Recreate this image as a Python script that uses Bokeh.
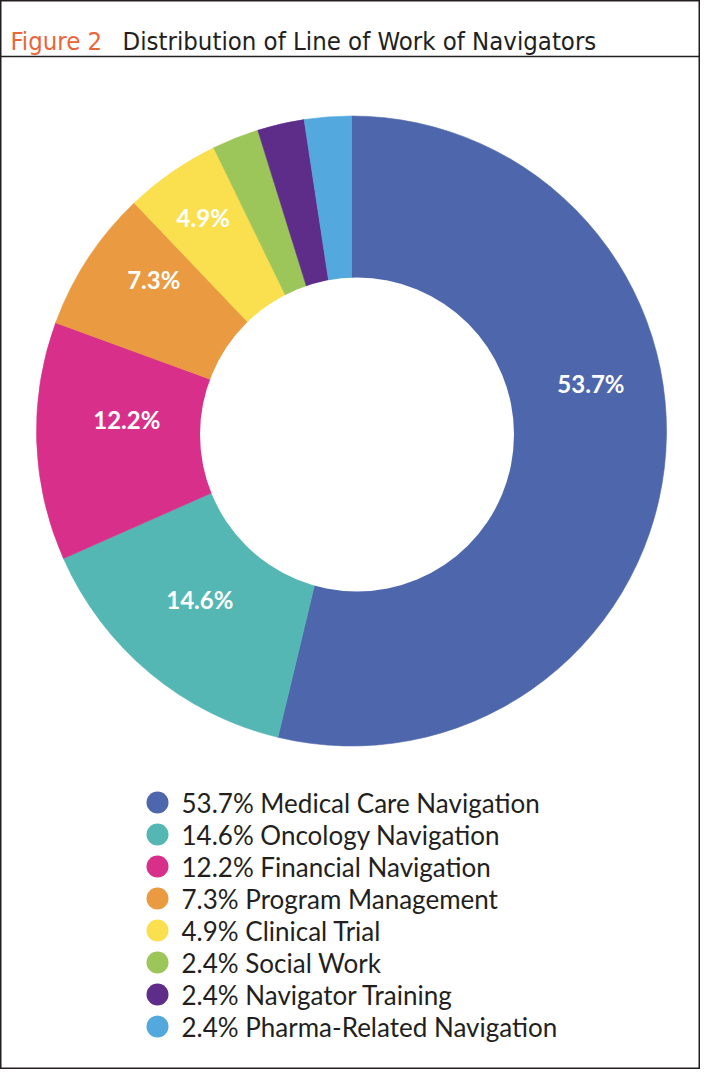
import math
from bokeh.plotting import figure
from bokeh.models import Range1d, Span, ColumnDataSource
from bokeh.core.properties import value
from bokeh.embed import file_html
from bokeh.resources import INLINE

# ---- data ----
categories = ["Medical Care Navigation", "Oncology Navigation", "Financial Navigation",
              "Program Management", "Clinical Trial", "Social Work",
              "Navigator Training", "Pharma-Related Navigation"]
shares = [53.7, 14.6, 12.2, 7.3, 4.9, 2.4, 2.4, 2.4]
colors = ["#4E67AC", "#55B7B4", "#D8308A", "#EA9A40", "#FADF4F", "#9DC65A", "#5E2D8A", "#53A9DE"]
title_tag = "Figure 2"
title_text = "Distribution of Line of Work of Navigators"

# ---- layout (pixel-like data units) ----
W, H = 700, 1069
def Y(page_y):
    return H - page_y
def X(page_x):
    return page_x

cx, cy = X(351), Y(430.5)
r_out = 315
hole_cx, hole_cy, r_in = X(356.5), Y(434), 157
label_shift_deg = [17.9, -2.1, -4.9, -4.2, 0.0]
label_radius = [244, 227, 225, 249, 260]
TITLE_FONT = value("Liberation Sans Narrow, DejaVu Sans Condensed, Roboto Condensed, sans-serif")

p = figure(width=W, height=H, x_range=Range1d(0, W), y_range=Range1d(0, H),
           output_backend="svg", toolbar_location=None, min_border=0)
p.axis.visible = False
p.grid.visible = False
p.outline_line_color = "#231F20"
p.outline_line_width = 2
p.background_fill_color = "white"
p.border_fill_color = "white"

total = sum(shares)
starts, ends, mids = [], [], []
cum = 0.0
for v in shares:
    a0 = math.pi / 2 - 2 * math.pi * cum / total
    cum += v
    a1 = math.pi / 2 - 2 * math.pi * cum / total
    starts.append(a1)
    ends.append(a0)
    mids.append((a0 + a1) / 2)

src = ColumnDataSource(dict(start=starts, end=ends, color=colors))
p.wedge(x=cx, y=cy, radius=r_out, start_angle="start", end_angle="end",
        fill_color="color", line_color="color", line_width=0.6, source=src)
p.scatter(x=[hole_cx], y=[hole_cy], size=2 * r_in, fill_color="white", line_color=None)

# slice labels
lx, ly, lt = [], [], []
for i in range(len(label_shift_deg)):
    a = mids[i] + math.radians(label_shift_deg[i])
    lx.append(cx + label_radius[i] * math.cos(a))
    ly.append(cy + label_radius[i] * math.sin(a))
    lt.append(f"{shares[i]:.1f}%")
p.text(x=lx, y=ly, text=lt, text_color="white", text_font=value("Lato"),
       text_font_style="bold", text_font_size="24px",
       text_align="center", text_baseline="middle")

# title
p.text(x=[X(10)], y=[Y(40)], text=[title_tag], text_color="#E8663A",
       text_font=TITLE_FONT, text_font_size="25.5px",
       text_align="left", text_baseline="alphabetic")
p.text(x=[X(122)], y=[Y(40)], text=[title_text], text_color="#231F20",
       text_font=TITLE_FONT, text_font_size="25.5px",
       text_align="left", text_baseline="alphabetic")
p.add_layout(Span(location=Y(56), dimension="width", line_color="#231F20", line_width=1.5))

# legend
n = len(categories)
leg_y = [Y(802 + 32 * i) for i in range(n)]
p.scatter(x=[X(157)] * n, y=leg_y, size=22, fill_color=colors, line_color=None)
p.text(x=[X(181)] * n, y=leg_y,
       text=[f"{s:.1f}% {c}" for s, c in zip(shares, categories)],
       text_color="#231F20", text_font=value("Lato"), text_font_size="26px",
       text_align="left", text_baseline="middle")

open("out.html", "w").write(file_html(p, INLINE))
